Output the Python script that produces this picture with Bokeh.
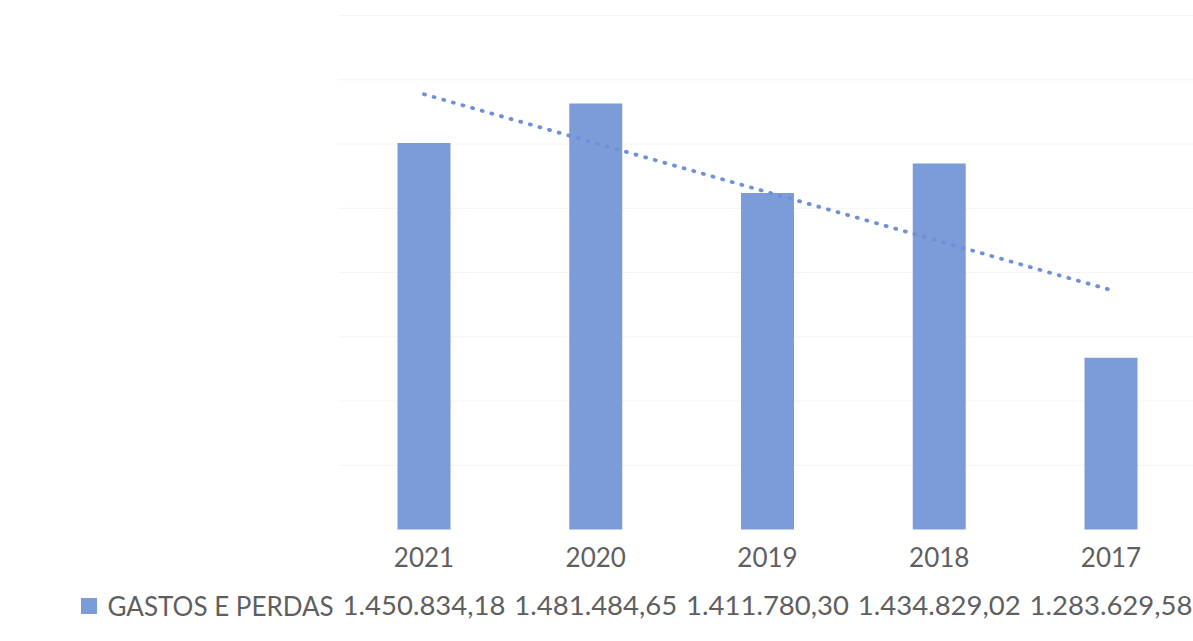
import numpy as np
from bokeh.plotting import figure
from bokeh.models import Range1d, ColumnDataSource
from bokeh.core.properties import value
from bokeh.embed import file_html
from bokeh.resources import INLINE

# ---- data ----
years = ["2021", "2020", "2019", "2018", "2017"]
gastos = [1450834.18, 1481484.65, 1411780.30, 1434829.02, 1283629.58]
series_name = "GASTOS E PERDAS"
y_min, y_max = 1150000, 1550000
grid_ticks = [1200000, 1250000, 1300000, 1350000, 1400000, 1450000, 1500000, 1550000]

# ---- layout (pixels on the canvas) ----
W, H = 1193, 641
frame_top, frame_bottom = 15, 529
cat0_px, cat_step = 423.5, 171.75
upp = (y_max - y_min) / (frame_bottom - frame_top)

def xd(px):
    return (px - cat0_px) / cat_step

def yd(px):
    return y_min - (px - frame_bottom) * upp

def fmt_br(v):
    s = f"{v:,.2f}"
    return s.replace(",", "X").replace(".", ",").replace("X", ".")

xs = list(range(len(years)))
src = ColumnDataSource(dict(x=xs, top=gastos, year=years,
                            val=[fmt_br(v) for v in gastos]))

p = figure(width=W, height=H, output_backend="svg", toolbar_location=None,
           x_range=Range1d(xd(0), xd(W)), y_range=Range1d(yd(H), yd(0)),
           min_border=0, min_border_left=0, min_border_right=0,
           min_border_top=0, min_border_bottom=0)
p.axis.visible = False
p.grid.visible = False
p.outline_line_color = None
p.background_fill_color = "white"
p.border_fill_color = "white"

bar_color = "#7b9cd9"
text_color = "#5f5f5f"

# faint gridlines
p.segment(x0=[xd(338)] * len(grid_ticks), x1=[xd(W)] * len(grid_ticks),
          y0=grid_ticks, y1=grid_ticks, line_color="#f4f4f4", line_width=1)

# bars
p.vbar(x="x", top="top", bottom=y_min, width=53 / cat_step, source=src,
       fill_color=bar_color, line_color=None)

# linear trend line (least squares over the categories)
coef = np.polyfit(np.arange(1, len(gastos) + 1), gastos, 1)
tx = [xs[0], xs[-1]]
ty = [coef[0] * (i + 1) + coef[1] for i in tx]
p.line(tx, ty, line_color="#6f8fd6", line_width=3.8, line_dash="1 9",
       line_cap="round")

# data table: years row and values row
p.text(x="x", y=yd(556), text="year", source=src, text_align="center",
       text_baseline="alphabetic", text_font=value("Lato"),
       text_font_size="26px", text_color=text_color)
p.text(x="x", y=yd(605), text="val", source=src, text_align="center",
       text_baseline="alphabetic", text_font=value("Lato"),
       text_font_size="27.5px", text_color=text_color)

# legend key + series name
p.scatter(x=[xd(88.5)], y=[yd(605.5)], marker="square", size=16,
          fill_color=bar_color, line_color=None)
p.text(x=[xd(107)], y=[yd(605)], text=[series_name], text_align="left",
       text_baseline="alphabetic", text_font=value("Lato"),
       text_font_size="26px", text_color=text_color)

open("out.html", "w").write(file_html(p, INLINE))
